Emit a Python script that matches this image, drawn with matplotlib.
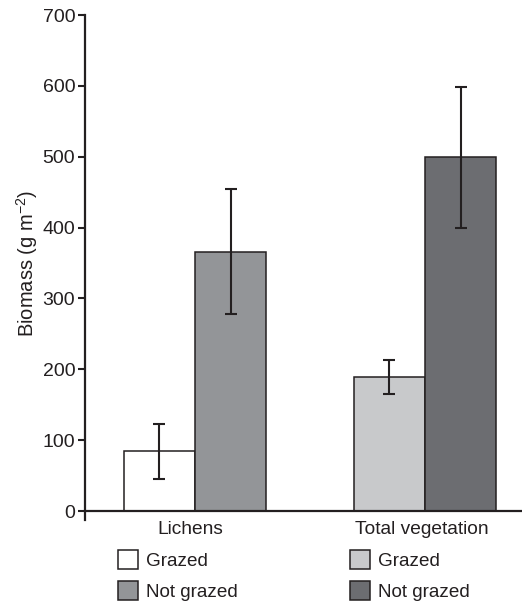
import matplotlib
matplotlib.use("Agg")
import matplotlib.pyplot as plt
from matplotlib.patches import Patch

plt.rcParams['font.family'] = ['Liberation Sans', 'DejaVu Sans']
plt.rcParams['mathtext.fontset'] = 'custom'
plt.rcParams['mathtext.rm'] = 'Liberation Sans'
plt.rcParams['mathtext.it'] = 'Liberation Sans:italic'
plt.rcParams['mathtext.bf'] = 'Liberation Sans:bold'

categories = ["Lichens", "Total vegetation"]
grazed = [84, 189]
grazed_err = [39, 23.5]
not_grazed = [366, 499]
not_grazed_err = [88, 100]
yticks = [0, 100, 200, 300, 400, 500, 600, 700]

ink = "#231f20"
grazed_colors = ["#ffffff", "#c8c9cb"]
not_grazed_colors = ["#939598", "#6c6d71"]

fig = plt.figure(figsize=(5.22, 6.06), dpi=100)
ax = fig.add_axes([85/522, 1-511/606, 1-85/522, 496/606])

x = [0, 1]
w = 0.31
xg = [xi - w/2 for xi in x]
xn = [xi + w/2 for xi in x]
ax.bar(xg, grazed, width=w, color=grazed_colors, edgecolor=ink, linewidth=1.1, zorder=2)
ax.bar(xn, not_grazed, width=w, color=not_grazed_colors, edgecolor=ink, linewidth=1.1, zorder=2)
ax.errorbar(xg, grazed, yerr=grazed_err, fmt='none', ecolor=ink, elinewidth=1.5,
            capsize=4.6, capthick=1.5, zorder=3)
ax.errorbar(xn, not_grazed, yerr=not_grazed_err, fmt='none', ecolor=ink, elinewidth=1.5,
            capsize=4.6, capthick=1.5, zorder=3)

ax.set_xlim(-0.478, 1.4217)
ax.set_ylim(0, 700)
ax.set_yticks(yticks)
ax.set_xticks([-0.02, 0.985])
ax.set_xticklabels(categories)
ax.tick_params(axis='x', length=0, pad=7, labelsize=13.8, labelcolor=ink)
ax.tick_params(axis='y', length=5, width=1.5, color=ink, pad=2, labelsize=14, labelcolor=ink)
for s in ['top', 'right']:
    ax.spines[s].set_visible(False)
for s in ['left', 'bottom']:
    ax.spines[s].set_linewidth(1.6)
    ax.spines[s].set_color(ink)
ax.spines['left'].set_bounds(-12, 700)

ax.set_ylabel("Biomass (g m$^{\u2212 2}$)", fontsize=14.5, color=ink, labelpad=2)

def make_legend(xpos, colors):
    handles = [Patch(facecolor=colors[0], edgecolor=ink, linewidth=1.1),
               Patch(facecolor=colors[1], edgecolor=ink, linewidth=1.1)]
    leg = fig.legend(handles, ["Grazed", "Not grazed"], loc='upper left',
                     bbox_to_anchor=(xpos/522, 1-550/606), frameon=False,
                     fontsize=13.6, handlelength=1.05, handleheight=1.15,
                     handletextpad=0.45, labelspacing=0.62, borderpad=0,
                     borderaxespad=0, labelcolor=ink)
    return leg

make_legend(118, [grazed_colors[0], not_grazed_colors[0]])
make_legend(350, [grazed_colors[1], not_grazed_colors[1]])

fig.savefig("out.png", dpi=100)
